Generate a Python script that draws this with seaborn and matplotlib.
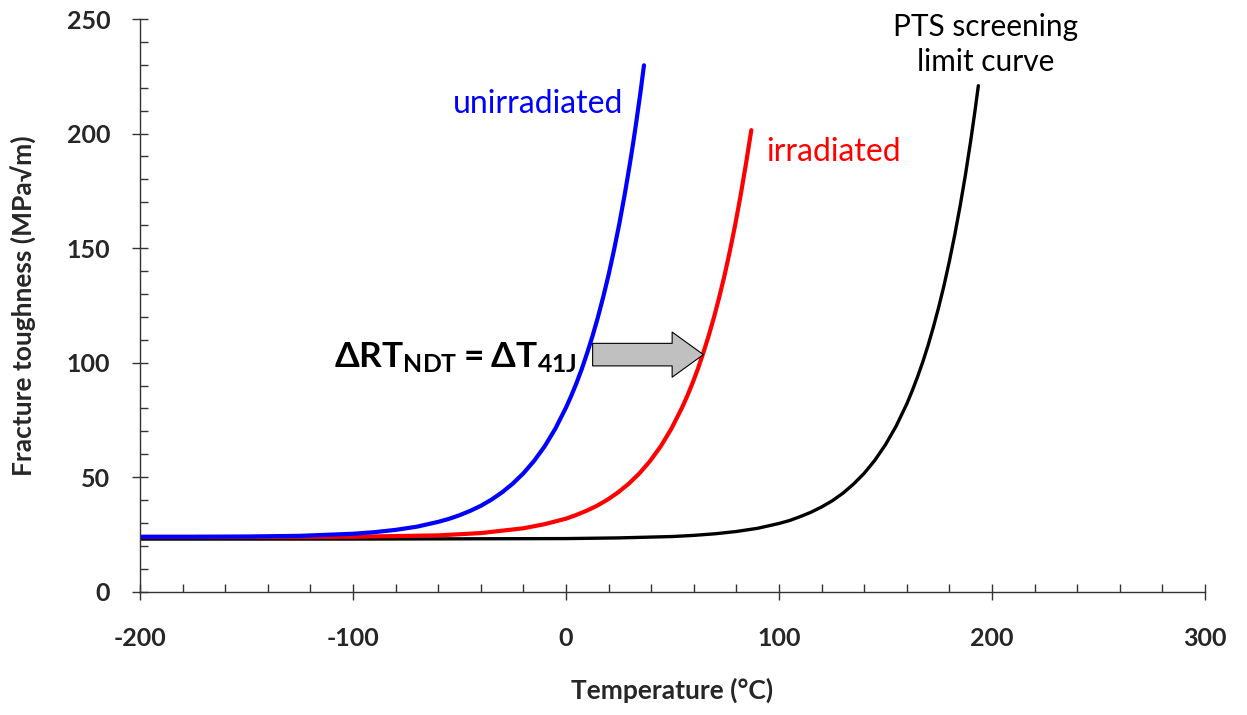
import pandas as pd
import matplotlib.pyplot as plt
import seaborn as sns
from matplotlib.ticker import MultipleLocator

# Valores (temperatura em °C, tenacidade em MPa√m)
temp_unirr = [-200, -175, -150, -125, -100, -90, -80, -70, -60, -55, -50, -45,
              -40, -35, -30, -25, -20, -15, -10, -5, 0, 2.5, 5, 7.5, 10, 12.5,
              15, 17.5, 20, 22.5, 25, 27.5, 30, 31.5, 33, 35, 36.6]
k_unirr = [24.0, 24.0, 24.1, 24.4, 25.3, 26.0, 27.0, 28.4, 30.5, 31.8, 33.4, 35.3,
           37.5, 40.2, 43.4, 47.2, 51.7, 57.1, 63.5, 71.2, 80.4, 85.6, 91.3, 97.5,
           104.4, 111.8, 119.9, 128.8, 138.4, 149.0, 160.5, 173.1, 186.9, 195.7,
           205.1, 218.3, 229.8]

temp_irr = [-200, -150, -100, -60, -40, -20, -10, 0, 4.5, 9.5, 14.5, 19.5,
            24.5, 29.5, 34.5, 39.5, 44.5, 49.5, 54.5, 57, 59.5, 62, 64.5, 67,
            69.5, 72, 74.5, 77, 79.5, 82, 84.5, 87]
k_irr = [23.9, 23.9, 24.0, 24.6, 25.6, 27.7, 29.5, 31.9, 33.4, 35.3, 37.5, 40.2,
         43.4, 47.2, 51.7, 57.1, 63.5, 71.2, 80.4, 85.6, 91.3, 97.5, 104.4, 111.8,
         119.9, 128.8, 138.4, 149.0, 160.5, 173.1, 186.9, 201.5]

temp_pts = [-200, -100, 0, 25, 50, 60, 70, 80, 90, 100, 105, 110, 115, 120, 125,
            130, 135, 140, 145, 150, 155, 160, 162.5, 165, 167.5, 170, 172.5,
            175, 177.5, 180, 182.5, 185, 187.5, 190, 192, 193.6]
k_pts = [23.0, 23.0, 23.2, 23.5, 24.1, 24.6, 25.3, 26.3, 27.7, 29.8, 31.1, 32.8,
         34.7, 37.0, 39.7, 43.0, 47.0, 51.7, 57.4, 64.2, 72.3, 82.0, 87.6, 93.7,
         100.3, 107.6, 115.6, 124.3, 133.8, 144.3, 155.7, 168.2, 181.8, 196.8,
         209.8, 220.9]

sns.set_style('ticks')
plt.rcParams['font.family'] = ['Lato', 'DejaVu Sans']
plt.rcParams['axes.unicode_minus'] = False
plt.rcParams['mathtext.fontset'] = 'custom'
plt.rcParams['mathtext.rm'] = 'Lato'
plt.rcParams['mathtext.bf'] = 'Lato:bold'

df_unirr = pd.DataFrame({'T': temp_unirr, 'K': k_unirr})
df_irr = pd.DataFrame({'T': temp_irr, 'K': k_irr})
df_pts = pd.DataFrame({'T': temp_pts, 'K': k_pts})

fig = plt.figure(figsize=(12.47, 7.15), dpi=100)
ax = fig.add_axes([0.1123, 0.1724, 0.854, 0.801])

sns.lineplot(data=df_pts, x='T', y='K', color='black', linewidth=2.4,
             sort=False, errorbar=None, ax=ax)
sns.lineplot(data=df_irr, x='T', y='K', color='#ff0000', linewidth=3.0,
             sort=False, errorbar=None, ax=ax)
sns.lineplot(data=df_unirr, x='T', y='K', color='#0000ff', linewidth=3.0,
             sort=False, errorbar=None, ax=ax)
for ln in ax.get_lines():
    ln.set_solid_capstyle('round')
    ln.set_solid_joinstyle('round')

ax.set_xlim(-200, 300)
ax.set_ylim(0, 250)
ax.xaxis.set_major_locator(MultipleLocator(100))
ax.xaxis.set_minor_locator(MultipleLocator(20))
ax.yaxis.set_major_locator(MultipleLocator(50))
ax.yaxis.set_minor_locator(MultipleLocator(10))
ax.tick_params(which='major', direction='inout', length=11, width=1, color='#333333')
ax.tick_params(which='minor', direction='in', length=6, width=1, color='#333333')
ax.tick_params(axis='x', which='major', pad=20, labelsize=18)
ax.tick_params(axis='y', which='major', pad=16, labelsize=18)
for lab in ax.get_xticklabels() + ax.get_yticklabels():
    lab.set_fontweight('bold')

for side in ['top', 'right']:
    ax.spines[side].set_visible(False)
for side in ['left', 'bottom']:
    ax.spines[side].set_color('#333333')
    ax.spines[side].set_linewidth(1)

ax.set_xlabel('Temperature (°C)', fontsize=19, fontweight='bold', labelpad=20)
ax.set_ylabel('Fracture toughness (MPa√m)', fontsize=19, fontweight='bold', labelpad=22)

ax.text(-53, 213, 'unirradiated', color='#0000ff', fontsize=23, va='center', ha='left')
ax.text(94, 192, 'irradiated', color='#ff0000', fontsize=23, va='center', ha='left')
ax.text(197, 238.7, 'PTS screening\nlimit curve', color='black', fontsize=21.5,
        va='center', ha='center', linespacing=1.3, clip_on=False)

ax.text(-109, 102, r'$\mathbf{\Delta RT_{NDT} = \Delta T_{41J}}$', fontsize=25.5,
        va='center', ha='left', color='black', zorder=5)
ax.annotate('', xy=(64.5, 103.5), xytext=(12.5, 103.5),
            arrowprops=dict(arrowstyle='simple,head_length=0.9,head_width=1.3,tail_width=0.65',
                            fc='#c0c0c0', ec='black', lw=0.8, mutation_scale=25,
                            shrinkA=0, shrinkB=0))

plt.savefig('out.png', dpi=100)
